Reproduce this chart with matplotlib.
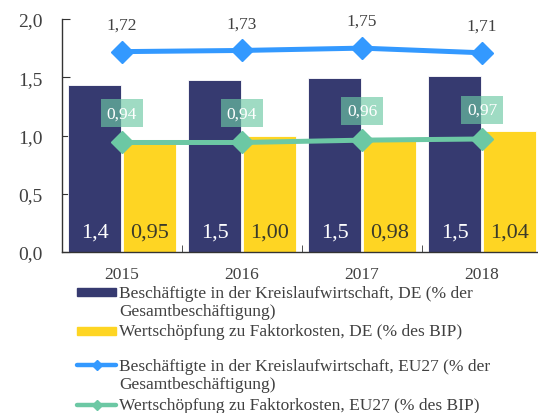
import numpy as np
import matplotlib
matplotlib.use("Agg")
import matplotlib.pyplot as plt
from matplotlib.lines import Line2D
from matplotlib.patches import Rectangle

years = ["2015", "2016", "2017", "2018"]
de_jobs = [1.43, 1.48, 1.49, 1.51]
de_value = [0.95, 1.00, 0.98, 1.04]
eu_jobs = [1.72, 1.73, 1.75, 1.71]
eu_value = [0.94, 0.94, 0.96, 0.97]

legend_labels = [
    "Beschäftigte in der Kreislaufwirtschaft, DE (% der\nGesamtbeschäftigung)",
    "Wertschöpfung zu Faktorkosten, DE (% des BIP)",
    "Beschäftigte in der Kreislaufwirtschaft, EU27 (% der\nGesamtbeschäftigung)",
    "Wertschöpfung zu Faktorkosten, EU27 (% des BIP)",
]

DARK = "#363a70"
YELLOW = "#fed523"
BLUE = "#3399ff"
GREEN = "#6cc8a4"
TXT = "#404040"

plt.rcParams["font.family"] = ["Liberation Serif", "DejaVu Serif"]


def de(v):
    return f"{v:.2f}".replace(".", ",")


W, H = 538, 414
fig = plt.figure(figsize=(W / 100, H / 100), dpi=100)
ax = fig.add_axes([62 / W, 1 - 253 / H, 480 / W, 233 / H])

x = np.arange(len(years))
bw = 0.44
off = 0.227
ax.bar(x - off, de_jobs, bw, color=DARK, edgecolor="white", linewidth=0.6, zorder=2)
ax.bar(x + off, de_value, bw, color=YELLOW, edgecolor="white", linewidth=0.6, zorder=2)

ax.plot(x, eu_jobs, color=BLUE, lw=3.6, marker="D", ms=11, zorder=3)
ax.plot(x, eu_value, color=GREEN, lw=3.6, marker="D", ms=11, zorder=3)

for i in range(len(years)):
    ax.annotate(f"{de_jobs[i]:.1f}".replace(".", ","), (x[i] - off, 0),
                xytext=(0, 14.5), textcoords="offset points",
                ha="center", va="center", fontsize=16, color="white", zorder=4)
    ax.annotate(de(de_value[i]), (x[i] + off, 0),
                xytext=(0, 14.5), textcoords="offset points",
                ha="center", va="center", fontsize=16, color="#3a3a2a", zorder=4)
    ax.annotate(de(eu_jobs[i]), (x[i], eu_jobs[i]),
                xytext=(0, 19.5), textcoords="offset points",
                ha="center", va="center", fontsize=12.5, color=TXT, zorder=4)
    ax.annotate(de(eu_value[i]), (x[i], eu_value[i]),
                xytext=(0, 21), textcoords="offset points",
                ha="center", va="center", fontsize=12.5, color="white", zorder=4,
                bbox=dict(boxstyle="square,pad=0.35", fc=GREEN, ec="none", alpha=0.65))

ax.set_xlim(-0.5, 3.5)
ax.set_ylim(0, 2.0)
ax.set_yticks([0, 0.5, 1.0, 1.5, 2.0])
ax.set_yticklabels(["0,0", "0,5", "1,0", "1,5", "2,0"])
ax.set_xticks(x)
ax.set_xticklabels(years)
ax.set_xticks([0.5, 1.5, 2.5], minor=True)
ax.tick_params(axis="x", which="major", length=0, pad=10, labelsize=12.5, labelcolor=TXT)
ax.tick_params(axis="x", which="minor", direction="in", length=5, color="#333333")
ax.tick_params(axis="y", direction="in", length=6, pad=14, labelsize=14, labelcolor=TXT,
               color="#333333")
for s in ["top", "right"]:
    ax.spines[s].set_visible(False)
for s in ["left", "bottom"]:
    ax.spines[s].set_color("#333333")
    ax.spines[s].set_linewidth(1.0)

# manual legend below the plot
rows = [293, 332, 366, 406]
kinds = ["bar", "bar", "line", "line"]
colors = [DARK, YELLOW, BLUE, GREEN]
for yc, kind, col, lab in zip(rows, kinds, colors, legend_labels):
    yf = 1 - yc / H
    if kind == "bar":
        fig.add_artist(Rectangle((77 / W, 1 - (yc + 4) / H), 39 / W, 8 / H,
                                 transform=fig.transFigure, color=col))
    else:
        fig.add_artist(Line2D([77 / W, 116 / W], [yf, yf], transform=fig.transFigure,
                              color=col, lw=3.2, solid_capstyle="round"))
        fig.add_artist(Line2D([96.5 / W], [yf], transform=fig.transFigure,
                              color=col, marker="D", ms=5, lw=0))
    ty = yf - 10 / H if "\n" in lab else yf
    fig.text(119 / W, ty, lab, ha="left", va="center",
             fontsize=12.5, color=TXT, linespacing=1.2)

fig.savefig("out.png", dpi=100)
